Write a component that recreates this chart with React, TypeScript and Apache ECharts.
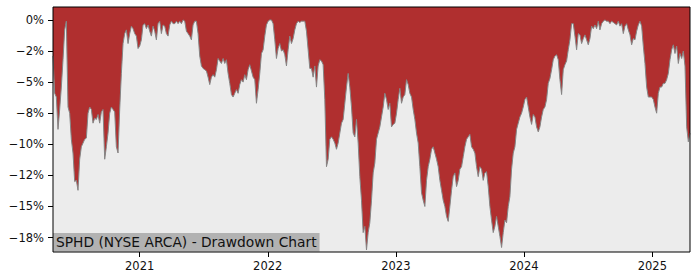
import React, { useEffect, useRef } from "react";
import * as echarts from "echarts";

const TITLE = "SPHD (NYSE ARCA) - Drawdown Chart";
const START_DATE = "2020-04-29";
const STEP_DAYS = 4.752;
// Drawdown in percent, sampled on a regular time grid starting at START_DATE
const DRAWDOWN_PCT = [
  -2.9, -5.9, -6.2, -8.8, -7.2, -5.4, -3.2, -0.8, -0.1, -7.0,
  -7.5, -9.6, -10.7, -13.0, -12.9, -13.7, -11.2, -10.2, -9.9, -9.6,
  -9.5, -7.5, -7.0, -7.2, -8.3, -7.9, -8.0, -7.6, -8.3, -7.4,
  -7.2, -11.2, -10.2, -9.1, -7.5, -7.0, -7.2, -7.4, -10.2, -10.7,
  -7.2, -4.3, -1.9, -1.1, -0.8, -1.9, -1.1, -0.5, -0.7, -1.1,
  -1.3, -2.3, -2.1, -1.6, -0.4, -0.3, -0.7, -0.4, -0.9, -1.3,
  -0.5, -0.9, -1.6, -0.3, -0.1, -1.1, -0.4, -0.5, -1.1, -1.3,
  -0.4, -0.1, -0.3, -0.3, -0.1, -0.3, -0.1, -0.3, 0, -0.1,
  -0.9, -1.1, -1.3, -1.6, -0.4, -0.1, -0.1, -1.1, -2.9, -3.7,
  -3.9, -4.0, -4.1, -4.6, -5.2, -4.6, -4.4, -4.6, -4.0, -3.1,
  -3.3, -3.5, -3.1, -3.5, -3.2, -4.3, -5.1, -6.0, -6.2, -5.9,
  -5.6, -5.9, -5.2, -4.8, -5.0, -4.4, -4.8, -4.0, -3.6, -4.1,
  -4.6, -4.8, -6.7, -5.6, -4.3, -2.7, -2.4, -1.3, -0.4, -0.1,
  0, 0, -0.3, -1.6, -3.1, -2.3, -1.9, -2.5, -2.4, -2.8,
  -3.7, -2.4, -1.3, -1.9, -1.5, -0.8, -0.3, -0.1, -0.2, -0.1,
  -0.1, -0.1, -0.9, -2.4, -3.9, -3.9, -4.6, -3.7, -5.4, -3.7,
  -3.2, -3.3, -3.6, -6.4, -11.8, -11.2, -9.6, -9.4, -9.6, -9.9,
  -10.4, -9.9, -9.1, -8.3, -8.0, -6.7, -5.4, -4.3, -5.4, -7.0,
  -9.1, -9.4, -8.0, -9.9, -12.6, -14.5, -17.1, -16.6, -18.5, -17.1,
  -16.3, -14.5, -12.3, -11.5, -9.6, -9.1, -8.6, -7.8, -7.0, -5.9,
  -6.4, -7.2, -6.7, -8.6, -8.4, -8.3, -7.5, -6.4, -5.5, -6.7,
  -6.2, -6.0, -4.8, -5.2, -5.9, -6.2, -7.2, -8.0, -9.1, -9.9,
  -11.8, -13.9, -14.5, -15.0, -12.9, -11.8, -11.2, -10.4, -10.2, -10.7,
  -11.2, -11.8, -12.9, -13.7, -14.5, -15.0, -15.8, -16.2, -15.0, -13.7,
  -12.6, -12.3, -13.4, -12.9, -12.0, -11.8, -11.0, -10.2, -9.6, -9.4,
  -9.2, -10.2, -10.4, -10.7, -11.8, -12.6, -11.8, -12.0, -12.9, -12.3,
  -12.2, -13.4, -15.0, -16.1, -17.1, -16.6, -15.8, -16.6, -17.4, -18.3,
  -17.1, -16.1, -16.3, -15.0, -14.2, -12.0, -10.7, -10.2, -8.8, -8.3,
  -7.8, -7.5, -7.0, -6.4, -6.2, -7.0, -7.8, -8.4, -7.6, -7.8,
  -8.6, -9.0, -8.6, -7.8, -7.2, -7.0, -6.4, -5.1, -4.7, -4.0,
  -3.2, -2.9, -2.8, -3.2, -4.8, -6.0, -4.0, -3.6, -3.3, -2.4,
  -1.6, -0.3, -0.3, -1.3, -2.4, -1.1, -1.2, -1.9, -1.5, -1.2,
  -1.6, -2.0, -1.5, -0.5, -0.7, -0.4, -0.7, -0.1, -0.8, -0.3,
  -0.1, 0, -0.1, -0.1, -0.3, -0.1, -0.2, -0.3, -0.4, -0.1,
  -0.5, -0.3, -1.1, -0.5, -0.3, -0.8, -1.2, -2.0, -1.5, -1.6,
  -0.9, -0.4, -0.1, -0.5, -2.1, -3.5, -5.4, -6.2, -6.2, -6.2,
  -6.4, -7.0, -7.5, -5.9, -5.4, -5.4, -5.1, -5.1, -4.8, -4.3,
  -3.2, -2.4, -2.0, -2.7, -2.1, -3.5, -2.7, -3.1, -2.5, -3.7,
  -8.6, -9.8, -9.1,
];
const Y_TICKS = [0, -2.5, -5, -7.5, -10, -12.5, -15, -17.5];
const Y_TICK_LABELS = ["0%", "\u22122%", "\u22125%", "\u22128%", "\u221210%", "\u221212%", "\u221215%", "\u221218%"];
const X_TICK_YEARS = [2021, 2022, 2023, 2024, 2025];
const Y_MIN = -18.66;
const Y_MAX = 1.04;

const GRID = { left: 53, top: 7, right: 10, bottom: 28 };
const FONT = "DejaVu Sans";

export default function App() {
  const ref = useRef<HTMLDivElement>(null);
  useEffect(() => {
    if (!ref.current) return;
    const chart = echarts.init(ref.current, undefined, { renderer: "svg" });
    const start = new Date(START_DATE + "T00:00:00Z").getTime();
    const dayMs = 86400000;
    const data = DRAWDOWN_PCT.map((v, i) => [start + i * STEP_DAYS * dayMs, v]);
    const xMin = data[0][0] as number;
    const xMax = data[data.length - 1][0] as number;
    const yearTicks = X_TICK_YEARS.map((y) => Date.UTC(y, 0, 1));
    const W = 700, H = 280;
    chart.setOption({
      animation: false,
      grid: {
        left: GRID.left,
        top: GRID.top,
        right: GRID.right,
        bottom: GRID.bottom,
        show: true,
        backgroundColor: "#ECECEC",
        borderWidth: 0,
      },
      title: {
        text: TITLE,
        left: GRID.left,
        top: 233,
        backgroundColor: "#B2B2B2",
        padding: [2, 3, 2, 3],
        itemGap: 0,
        textStyle: {
          fontFamily: FONT,
          fontSize: 13.8,
          fontWeight: "normal",
          color: "#111",
          lineHeight: 14.4,
        },
      },
      xAxis: {
        type: "value",
        min: xMin,
        max: xMax,
        axisLine: { show: false, onZero: false },
        splitLine: { show: false },
        axisTick: {
          show: true,
          customValues: yearTicks,
          length: 5,
          lineStyle: { color: "#000", width: 1 },
        },
        axisLabel: {
          customValues: yearTicks,
          margin: 8,
          fontFamily: FONT,
          fontSize: 11.5,
          color: "#111",
          formatter: (v: number) => String(new Date(v).getUTCFullYear()),
        },
      },
      yAxis: {
        type: "value",
        min: Y_MIN,
        max: Y_MAX,
        axisLine: { show: false },
        splitLine: { show: false },
        axisTick: {
          show: true,
          customValues: Y_TICKS,
          length: 5,
          lineStyle: { color: "#000", width: 1 },
        },
        axisLabel: {
          customValues: Y_TICKS,
          margin: 9,
          fontFamily: FONT,
          fontSize: 11.5,
          color: "#111",
          formatter: (v: number) => {
            let best = 0;
            Y_TICKS.forEach((t, i) => {
              if (Math.abs(t - v) < Math.abs(Y_TICKS[best] - v)) best = i;
            });
            return Y_TICK_LABELS[best];
          },
        },
      },
      series: [
        {
          type: "line",
          data,
          symbol: "none",
          lineStyle: { color: "#858585", width: 1 },
          areaStyle: { color: "#B02F2F", opacity: 1, origin: "end" },
          clip: true,
        },
      ],
      graphic: [
        {
          type: "rect",
          z: 100,
          shape: {
            x: GRID.left,
            y: GRID.top,
            width: W - GRID.left - GRID.right,
            height: H - GRID.top - GRID.bottom,
          },
          style: { fill: "none", stroke: "#000", lineWidth: 1 },
          silent: true,
        },
      ],
    });
    return () => chart.dispose();
  }, []);
  return (
    <div
      ref={ref}
      style={{ position: "fixed", left: 0, top: 0, width: 700, height: 280, background: "#fff" }}
    />
  );
}
